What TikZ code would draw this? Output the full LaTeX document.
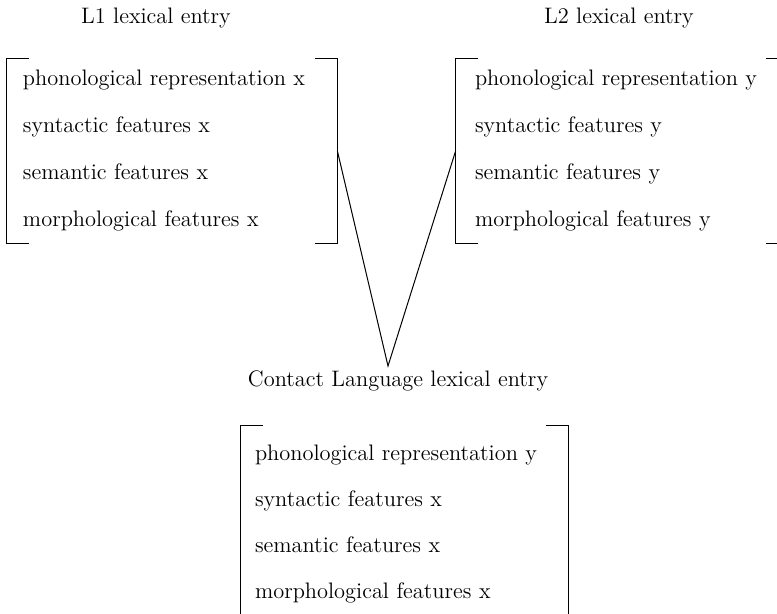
\documentclass[tikz,border=0pt]{standalone}
\usetikzlibrary{positioning,calc}
\tikzset{
     entry text/.style={font=\fontsize{11.2}{23.5}\selectfont},
     entry box/.style={entry text, align=left, inner ysep=0pt, anchor=center},
     brace line/.style={black, line width=0.5pt},
    }

\begin{document}
\begin{tikzpicture}[x=0.5pt,y=-0.5pt]
        \useasboundingbox (0,0) rectangle (777,614);

        \node [entry text] (l1title) at (156,18)  {L1 lexical entry};
        \node [entry text] (l2title) at (619,18)  {L2 lexical entry};
        \node [entry text] (cltitle) at (398,381) {Contact Language lexical entry};

        \node [entry box, inner xsep=8pt, text width=149pt, minimum height=92pt] (l1box) at (172,151)
            {phonological representation x\\ syntactic features x\\ semantic features x\\ morphological features x};
        \node [entry box, inner xsep=9.5pt, text width=147pt, minimum height=92pt] (l2box) at (622,151)
            {phonological representation y\\ syntactic features y\\ semantic features y\\ morphological features y};
        \node [entry box, inner xsep=7pt, text width=149.5pt, minimum height=98pt,
               font=\fontsize{11.2}{23}\selectfont] (clbox) at (404.5,524)
            {phonological representation y\\ syntactic features x\\ semantic features x\\ morphological features x};

        % square brackets round each entry
        \foreach \b in {l1box,l2box,clbox}{
            \draw [brace line] ([xshift=11pt]\b.north west) -| (\b.south west) -- ++(11pt,0);
            \draw [brace line] ([xshift=-11pt]\b.north east) -| (\b.south east) -- ++(-11pt,0);
        }

        \coordinate (apex) at (388,366);
        \draw [brace line] (l1box.east) -- (apex) -- (l2box.west);
    \end{tikzpicture}
\end{document}
